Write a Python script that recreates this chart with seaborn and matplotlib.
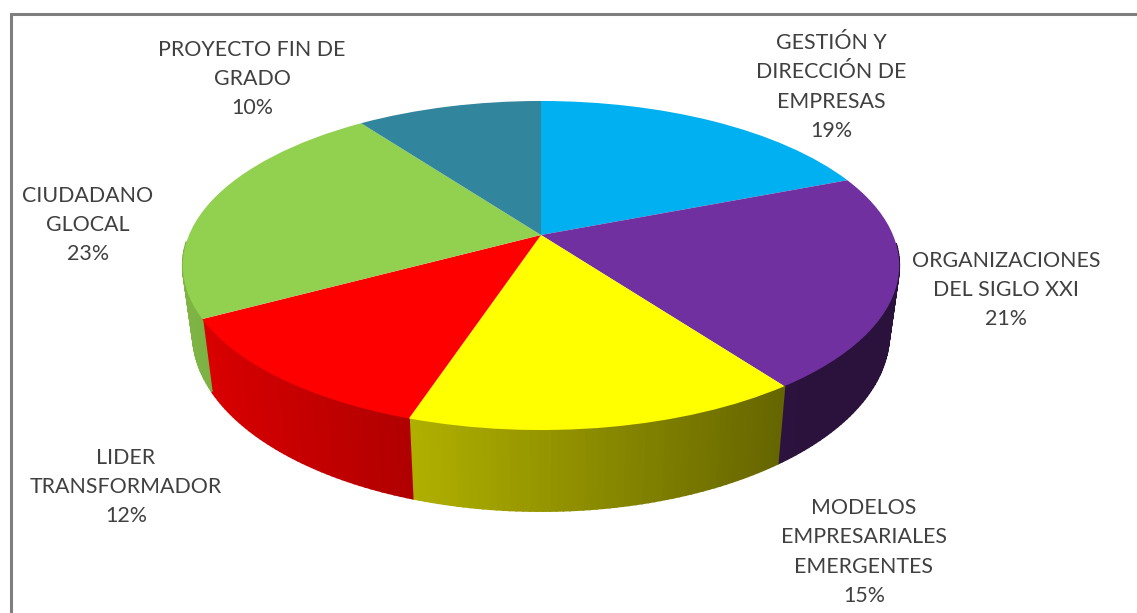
import numpy as np
import seaborn as sns
import matplotlib.pyplot as plt
from matplotlib.transforms import Transform

# Data
categories = ["GESTIÓN Y\nDIRECCIÓN DE\nEMPRESAS", "ORGANIZACIONES\nDEL SIGLO XXI",
              "MODELOS\nEMPRESARIALES\nEMERGENTES", "LIDER\nTRANSFORMADOR",
              "CIUDADANO\nGLOCAL", "PROYECTO FIN DE\nGRADO"]
values = [19, 21, 15, 12, 23, 10]
colors = ["#00B0F0", "#7030A0", "#FFFF00", "#FF0000", "#92D050", "#31859C"]
label_pos = [(831, 87), (1006, 290), (864, 552), (126, 487), (88, 225), (252, 79)]

# Perspective of the tilted disc, in image pixels
CX, CY = 541, 235
WIDTH, TILT, YA = 352, 0.1854, -115.3
DEPTH, SHRINK = 66, 0.972


def project(u, v, lower=False):
    den = 1 + TILT * v
    x = WIDTH * u / den
    y = (YA * v + CY) / den
    if lower:
        x = x * SHRINK
        y = y + DEPTH / den
    return CX + x, y


class TiltTransform(Transform):
    input_dims = 2
    output_dims = 2

    def transform_non_affine(self, values):
        x, y = project(values[:, 0], values[:, 1])
        return np.column_stack([x, y])


def wall_shade(x):
    # the side gets darker from left to right
    return np.clip(0.85 - (x - 205) * 0.45 / 575, 0.38, 0.87)


sns.set_theme(style="white")
plt.rcParams['font.family'] = ['Lato', 'DejaVu Sans']

fig, ax = plt.subplots(figsize=(11.37, 6.13), dpi=100)
fig.subplots_adjust(left=0, right=1, bottom=0, top=1)

wedges, _ = ax.pie(values, colors=sns.color_palette(colors), startangle=90,
                   counterclock=False, radius=1, wedgeprops={"linewidth": 0})
tilt = TiltTransform()
for w in wedges:
    w.set_transform(tilt + ax.transData)
    w.set_zorder(3)

# Side wall, thin strips around the rim of each slice
edges = np.cumsum([0] + values) / sum(values) * 2 * np.pi
for i, col in enumerate(colors):
    base = np.array(sns.color_palette([col])[0])
    steps = np.linspace(edges[i], edges[i + 1], max(values[i] * 4, 2))
    for a, b in zip(steps[:-1], steps[1:]):
        if np.cos((a + b) / 2) > -0.05:     # back of the disc, hidden by the top
            continue
        x1, y1 = project(np.sin(a), np.cos(a))
        x2, y2 = project(np.sin(b), np.cos(b))
        x3, y3 = project(np.sin(b), np.cos(b), lower=True)
        x4, y4 = project(np.sin(a), np.cos(a), lower=True)
        c = base * wall_shade((x1 + x2) / 2)
        ax.fill([x1, x2, x3, x4], [y1, y2, y3, y4], color=c, lw=1.3, zorder=2)

# Labels
for name, val, (lx, ly) in zip(categories, values, label_pos):
    ax.text(lx, ly, f"{name}\n{val}%", ha="center", va="center", fontsize=15.4,
            color="#404040", linespacing=1.57, zorder=5)

# Frame of the screenshot, top and left only
ax.plot([10.5, 10.5, 1137], [613, 13.5, 13.5], color="#7F7F7F", lw=2.2, zorder=6,
        solid_joinstyle="miter")

ax.set_aspect("auto")
ax.set_xlim(0, 1137)
ax.set_ylim(613, 0)
ax.axis("off")

plt.savefig("out.png", dpi=100)
